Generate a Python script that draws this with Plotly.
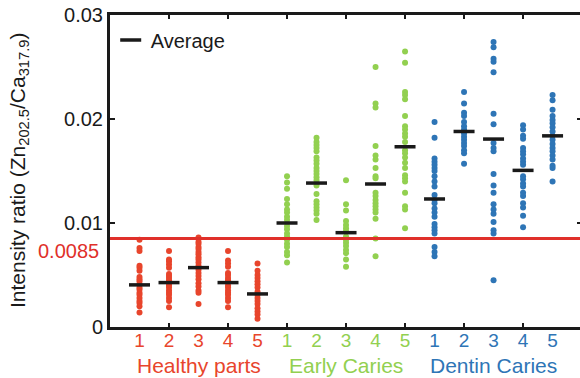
import plotly.graph_objects as go

# ---- data -----------------------------------------------------------------
GROUP_NAMES = ["Healthy parts", "Early Caries", "Dentin Caries"]
GROUP_COLORS = ["#E8452C", "#92D050", "#2E75B6"]
SAMPLE_LABELS = ["1", "2", "3", "4", "5"]
THRESHOLD = 0.0085

healthy = [
    [0.0084, 0.0076, 0.0073, 0.0059, 0.0057, 0.0054, 0.0048, 0.0046, 0.0044, 0.0041,
     0.0038, 0.0036, 0.0033, 0.0031, 0.0028, 0.0025, 0.0023, 0.0020, 0.0014],
    [0.0073, 0.0065, 0.0063, 0.0060, 0.0057, 0.0051, 0.0049, 0.0047, 0.0045, 0.0042,
     0.0040, 0.0038, 0.0035, 0.0033, 0.0031, 0.0028, 0.0025, 0.0019],
    [0.0086, 0.0082, 0.0080, 0.0077, 0.0075, 0.0072, 0.0070, 0.0067, 0.0065, 0.0062,
     0.0059, 0.0055, 0.0052, 0.0049, 0.0046, 0.0042, 0.0039, 0.0035, 0.0033, 0.0022],
    [0.0073, 0.0064, 0.0061, 0.0058, 0.0052, 0.0050, 0.0047, 0.0045, 0.0043, 0.0040,
     0.0038, 0.0035, 0.0033, 0.0031, 0.0028, 0.0025, 0.0019],
    [0.0061, 0.0054, 0.0050, 0.0047, 0.0044, 0.0041, 0.0038, 0.0034, 0.0031, 0.0028,
     0.0025, 0.0022, 0.0018, 0.0015, 0.0012, 0.0008],
]
early = [
    [0.0145, 0.0139, 0.0133, 0.0123, 0.0118, 0.0113, 0.0110, 0.0106, 0.0103, 0.0097,
     0.0094, 0.0090, 0.0087, 0.0084, 0.0080, 0.0077, 0.0072, 0.0069, 0.0062],
    [0.0182, 0.0178, 0.0175, 0.0172, 0.0169, 0.0163, 0.0160, 0.0157, 0.0153, 0.0150,
     0.0147, 0.0144, 0.0141, 0.0136, 0.0128, 0.0121, 0.0118, 0.0115, 0.0112, 0.0109,
     0.0103],
    [0.0141, 0.0118, 0.0112, 0.0102, 0.0098, 0.0095, 0.0092, 0.0087, 0.0084, 0.0081,
     0.0078, 0.0074, 0.0071, 0.0065, 0.0058],
    [0.0250, 0.0215, 0.0211, 0.0174, 0.0165, 0.0161, 0.0153, 0.0145, 0.0143, 0.0129,
     0.0126, 0.0122, 0.0119, 0.0116, 0.0113, 0.0110, 0.0104, 0.0085, 0.0068],
    [0.0265, 0.0254, 0.0226, 0.0223, 0.0219, 0.0203, 0.0193, 0.0190, 0.0186, 0.0183,
     0.0178, 0.0170, 0.0167, 0.0163, 0.0158, 0.0153, 0.0146, 0.0143, 0.0140, 0.0129,
     0.0116, 0.0113, 0.0095],
]
dentin = [
    [0.0197, 0.0182, 0.0162, 0.0159, 0.0156, 0.0153, 0.0150, 0.0145, 0.0140, 0.0135,
     0.0127, 0.0122, 0.0119, 0.0114, 0.0110, 0.0106, 0.0099, 0.0096, 0.0093, 0.0090,
     0.0077, 0.0072, 0.0068],
    [0.0226, 0.0215, 0.0206, 0.0203, 0.0197, 0.0193, 0.0190, 0.0186, 0.0183, 0.0180,
     0.0177, 0.0174, 0.0170, 0.0167, 0.0157],
    [0.0274, 0.0269, 0.0258, 0.0255, 0.0245, 0.0205, 0.0195, 0.0177, 0.0172, 0.0169,
     0.0147, 0.0136, 0.0129, 0.0118, 0.0113, 0.0109, 0.0101, 0.0093, 0.0090, 0.0045],
    [0.0194, 0.0190, 0.0184, 0.0181, 0.0172, 0.0169, 0.0166, 0.0162, 0.0159, 0.0156,
     0.0145, 0.0142, 0.0138, 0.0135, 0.0129, 0.0126, 0.0119, 0.0115, 0.0107, 0.0096],
    [0.0223, 0.0218, 0.0209, 0.0203, 0.0199, 0.0196, 0.0192, 0.0188, 0.0184, 0.0180,
     0.0176, 0.0172, 0.0169, 0.0165, 0.0161, 0.0155, 0.0153, 0.0140],
]

avg_healthy = [0.00405, 0.00427, 0.00571, 0.00427, 0.00318]
avg_early = [0.0100, 0.01384, 0.00907, 0.01375, 0.01733]
avg_dentin = [0.01231, 0.0188, 0.01807, 0.01506, 0.01838]

groups = [healthy, early, dentin]
averages = [avg_healthy, avg_early, avg_dentin]

# ---- figure ---------------------------------------------------------------
FONT = "Liberation Sans, Arial, sans-serif"
INK = "#1a1a1a"
RED_LINE = "#E0302A"

fig = go.Figure()

n = len(SAMPLE_LABELS)
for g, (samples, color) in enumerate(zip(groups, GROUP_COLORS)):
    xs, ys = [], []
    for k, vals in enumerate(samples):
        pos = g * n + k + 1
        xs += [pos] * len(vals)
        ys += vals
    fig.add_trace(go.Scatter(
        x=xs, y=ys, mode="markers", showlegend=False,
        marker=dict(size=6, color=color, line=dict(width=0)),
        hoverinfo="y", xaxis="x", yaxis="y",
    ))

# group means drawn as short black dashes (on the overlay axes)
for g, avg in enumerate(averages):
    fig.add_trace(go.Scatter(
        x=[g * n + k + 1 for k in range(n)], y=avg, mode="markers",
        name="Average", showlegend=(g == 0), legendgroup="avg",
        marker=dict(symbol="line-ew", size=15, color=INK,
                    line=dict(width=3.5, color=INK)),
        xaxis="x2", yaxis="y2",
    ))

# threshold line across the full plot width
fig.add_shape(type="line", xref="paper", yref="y", x0=0, x1=1,
              y0=THRESHOLD, y1=THRESHOLD,
              line=dict(color=RED_LINE, width=3), layer="above")

XR = [0, 15.93]
YR = [0, 0.03]
tick_text = []
for g, color in enumerate(GROUP_COLORS):
    for lab in SAMPLE_LABELS:
        tick_text.append(f'<span style="color:{color}">{lab}</span>')

fig.update_layout(
    width=580, height=378,
    margin=dict(l=110, r=0, t=15, b=51),
    paper_bgcolor="white", plot_bgcolor="white",
    font=dict(family=FONT, color=INK, size=20),
    xaxis=dict(
        range=XR, tickvals=list(range(0, 17, 2)), showticklabels=False,
        ticks="inside", ticklen=4, tickwidth=1.5, tickcolor=INK,
        showline=True, linewidth=3, linecolor=INK, mirror="ticks",
        showgrid=False, zeroline=False,
    ),
    xaxis2=dict(
        range=XR, overlaying="x", anchor="y", side="bottom",
        tickvals=list(range(1, 3 * n + 1)), ticktext=tick_text,
        ticks="", showline=False, showgrid=False, zeroline=False,
        tickfont=dict(size=19, family=FONT),
    ),
    yaxis=dict(
        range=YR, tickvals=[0, 0.01, 0.02, 0.03],
        ticktext=["0", "0.01", "0.02", "0.03"],
        ticks="inside", ticklen=5, tickwidth=1.5, tickcolor=INK,
        showline=True, linewidth=3, linecolor=INK, mirror=False,
        showgrid=False, zeroline=False,
        tickfont=dict(size=20, family=FONT, color=INK),
    ),
    yaxis2=dict(
        range=YR, overlaying="y", anchor="x", side="right",
        tickvals=[0.01, 0.02], showticklabels=False,
        ticks="inside", ticklen=3, tickwidth=1.5, tickcolor=INK,
        showline=False, showgrid=False, zeroline=False,
    ),
    legend=dict(
        x=0.0015, y=0.982, xanchor="left", yanchor="top",
        bgcolor="rgba(0,0,0,0)", itemwidth=30,
        font=dict(size=20, family=FONT, color=INK),
    ),
)

# y-axis title
fig.add_annotation(
    text="Intensity ratio (Zn<sub>202.5</sub>/Ca<sub>317.9</sub>)",
    xref="paper", yref="paper", x=(19 - 110) / 470, y=0.5,
    xanchor="center", yanchor="middle", textangle=-90, showarrow=False,
    font=dict(size=21, family=FONT, color=INK),
)

# threshold value label
fig.add_annotation(
    text=f"{THRESHOLD}", xref="paper", yref="y", x=-0.019, y=THRESHOLD,
    xanchor="right", yanchor="middle", yshift=-12, showarrow=False,
    font=dict(size=20, family=FONT, color=RED_LINE),
)

# group names under the sample numbers
for g, (name, color) in enumerate(zip(GROUP_NAMES, GROUP_COLORS)):
    fig.add_annotation(
        text=name, xref="x", yref="paper", x=g * n + (n + 1) / 2, y=0,
        xanchor="center", yanchor="middle", yshift=-38, showarrow=False,
        font=dict(size=21, family=FONT, color=color),
    )

fig.write_html("out.html")
